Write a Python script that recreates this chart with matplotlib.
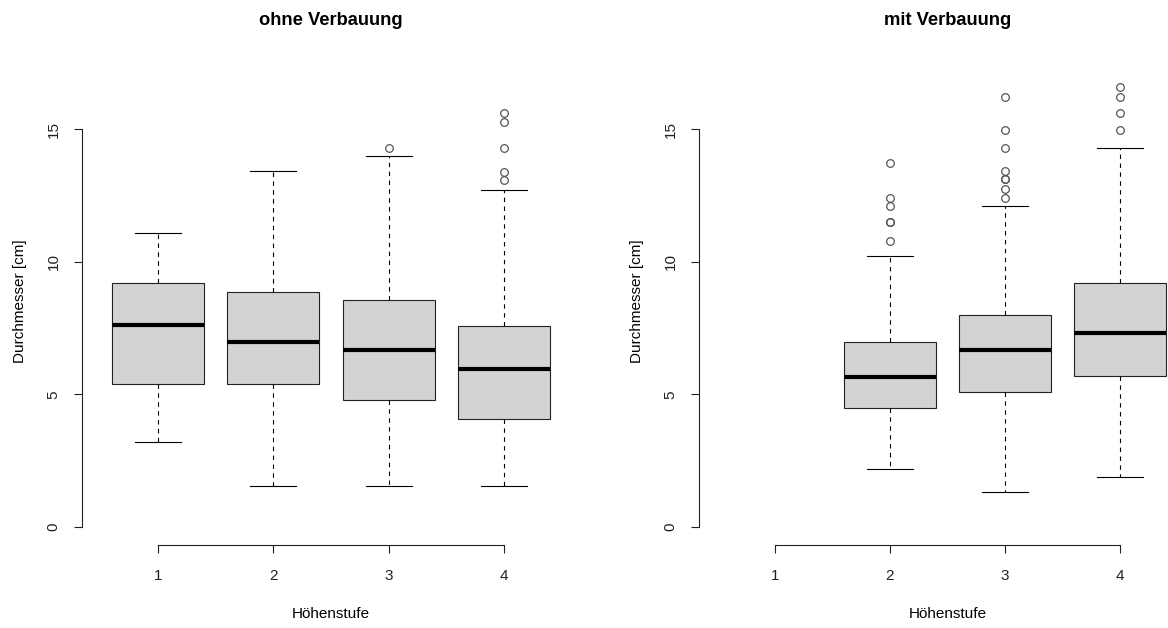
import matplotlib
matplotlib.use("Agg")
import matplotlib.pyplot as plt

plt.rcParams["font.family"] = ["Liberation Sans", "DejaVu Sans"]

W, H = 1168, 628

# Höhenstufen (1-4) and box statistics per group
stufen = [1, 2, 3, 4]

# ohne Verbauung
ohne_whislo = [3.2, 1.55, 1.55, 1.55]
ohne_q1 = [5.39, 5.39, 4.79, 4.07]
ohne_med = [7.61, 6.97, 6.67, 5.96]
ohne_q3 = [9.2, 8.86, 8.56, 7.58]
ohne_whishi = [11.08, 13.42, 13.98, 12.7]
ohne_fliers = [[], [], [14.3], [15.59, 15.28, 14.28, 13.4, 13.08]]

# mit Verbauung (no trees in Höhenstufe 1)
mit_stufen = [2, 3, 4]
mit_whislo = [2.19, 1.32, 1.88]
mit_q1 = [4.49, 5.09, 5.69]
mit_med = [5.65, 6.67, 7.31]
mit_q3 = [6.97, 7.99, 9.2]
mit_whishi = [10.2, 12.09, 14.29]
mit_fliers = [
    [13.73, 12.41, 12.1, 11.51, 11.51, 10.77],
    [16.22, 14.96, 14.27, 13.42, 13.1, 13.1, 12.73, 12.39],
    [16.6, 16.22, 15.59, 14.96],
]

titles = ["ohne Verbauung", "mit Verbauung"]
yticks = [0, 5, 10, 15]


def make_stats(whislo, q1, med, q3, whishi, fliers):
    return [
        dict(whislo=a, q1=b, med=c, q3=d, whishi=e, fliers=f)
        for a, b, c, d, e, f in zip(whislo, q1, med, q3, whishi, fliers)
    ]


def px_axes(fig, left, right, top, bottom):
    return fig.add_axes([left / W, (H - bottom) / H, (right - left) / W, (bottom - top) / H])


fig = plt.figure(figsize=(W / 100, H / 100), dpi=100)
fig.patch.set_facecolor("white")

ax1 = px_axes(fig, 82, 580, 58, 545)
ax2 = px_axes(fig, 699, 1196, 58, 545)

panels = [
    (ax1, stufen, make_stats(ohne_whislo, ohne_q1, ohne_med, ohne_q3, ohne_whishi, ohne_fliers)),
    (ax2, mit_stufen, make_stats(mit_whislo, mit_q1, mit_med, mit_q3, mit_whishi, mit_fliers)),
]

for (ax, pos, stats), title in zip(panels, titles):
    ax.bxp(
        stats,
        positions=pos,
        widths=0.8,
        patch_artist=True,
        boxprops=dict(facecolor="#D3D3D3", edgecolor="#222222", linewidth=0.8),
        medianprops=dict(color="black", linewidth=3.0, solid_capstyle="butt"),
        whiskerprops=dict(color="black", linewidth=0.8, linestyle=(0, (4, 4))),
        capprops=dict(color="black", linewidth=0.8),
        capwidths=0.4,
        flierprops=dict(marker="o", markerfacecolor="none", markeredgecolor="#555555",
                        markersize=5.5, markeredgewidth=0.9, linestyle="none"),
    )
    ax.set_xlim(0.34, 4.66)
    ax.set_ylim(-0.68, 17.68)
    ax.set_facecolor("none")
    for s in ["top", "right"]:
        ax.spines[s].set_visible(False)
    ax.spines["left"].set_bounds(0, 15)
    ax.spines["bottom"].set_bounds(1, 4)
    for s in ["left", "bottom"]:
        ax.spines[s].set_linewidth(0.8)
        ax.spines[s].set_color("#222222")
    ax.set_xticks(stufen)
    ax.set_xticklabels([str(s) for s in stufen])
    ax.set_yticks(yticks)
    ax.set_yticklabels([str(t) for t in yticks], rotation=90, va="center")
    ax.tick_params(axis="both", length=6, width=0.8, color="#222222", labelsize=11,
                   labelcolor="#222222")
    ax.tick_params(axis="x", pad=11.5)
    ax.tick_params(axis="y", pad=9.5)
    ax.set_title(title, fontsize=13.2, fontweight="bold", pad=23.5)
    ax.set_xlabel("Höhenstufe", fontsize=11, labelpad=17)
    ax.set_ylabel("Durchmesser [cm]", fontsize=11, labelpad=14)

fig.savefig("out.png", dpi=100)
